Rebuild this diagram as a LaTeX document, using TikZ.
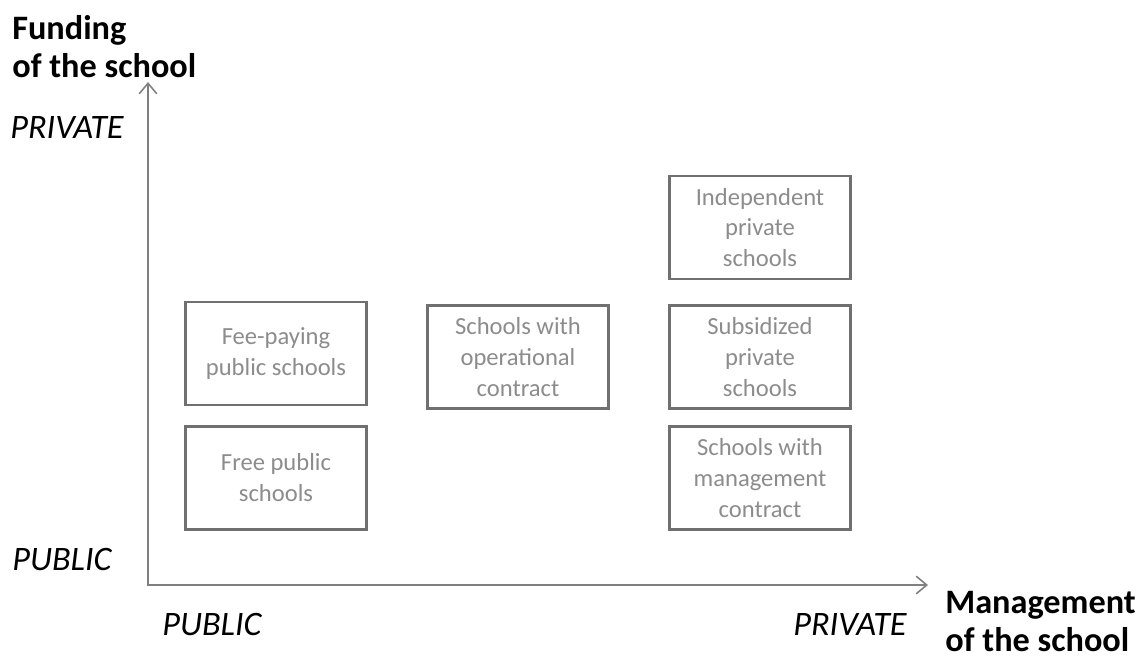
\documentclass[tikz,border=0pt]{standalone}
\usepackage{fontspec}
\setmainfont{Carlito}
\usepackage{xcolor}
\usetikzlibrary{arrows.meta,positioning}
\definecolor{boxgray}{HTML}{707070}
\definecolor{txtgray}{HTML}{8C8C8C}
\definecolor{axisgray}{HTML}{808080}

\begin{document}
\begin{tikzpicture}[x=0.02cm,y=-0.02cm,
  box/.style={draw=boxgray,line width=1.6pt,text=txtgray,align=center,
    font=\fontsize{14}{17.6}\selectfont,minimum width=3.62cm,minimum height=2.06cm,inner sep=0pt},
  axlabel/.style={anchor=base west,inner sep=0pt,font=\fontsize{19.5}{22}\selectfont\itshape},
  axtitle/.style={anchor=base west,inner sep=0pt,align=left,font=\fontsize{19.5}{21.5}\selectfont\bfseries}]
\useasboundingbox (0,0) rectangle (1140,660);
\coordinate (origin) at (148,585);
\coordinate (ytip) at (148,82);
\coordinate (xtip) at (928,585);
\draw[axisgray,line width=0.9pt,{Straight Barb[length=6pt,width=10pt]}-{Straight Barb[length=6pt,width=10pt]}](ytip)--(origin)--(xtip);
\node[axtitle] (funding) at (12,77) {Funding\\of the school};
\node[axtitle] (management) at (945,651) {Management\\of the school};
\node[axlabel] (ypriv) at (10,138) {PRIVATE};
\node[axlabel] (ypub) at (12,570) {PUBLIC};
\node[axlabel] (xpub) at (162,635) {PUBLIC};
\node[axlabel] (xpriv) at (793,635) {PRIVATE};
\node[box] (feepay) at (276,353.5) {Fee-paying\\public schools};
\node[box] (free) at (276,478) {Free public\\schools};
\node[box] (operational) at (518,357) {Schools with\\operational\\contract};
\node[box] (independent) at (760,227.5) {Independent\\private\\schools};
\node[box] (subsidized) at (760,357) {Subsidized\\private\\schools};
\node[box] (mgmt) at (760,478) {Schools with\\management\\contract};
\end{tikzpicture}
\end{document}
